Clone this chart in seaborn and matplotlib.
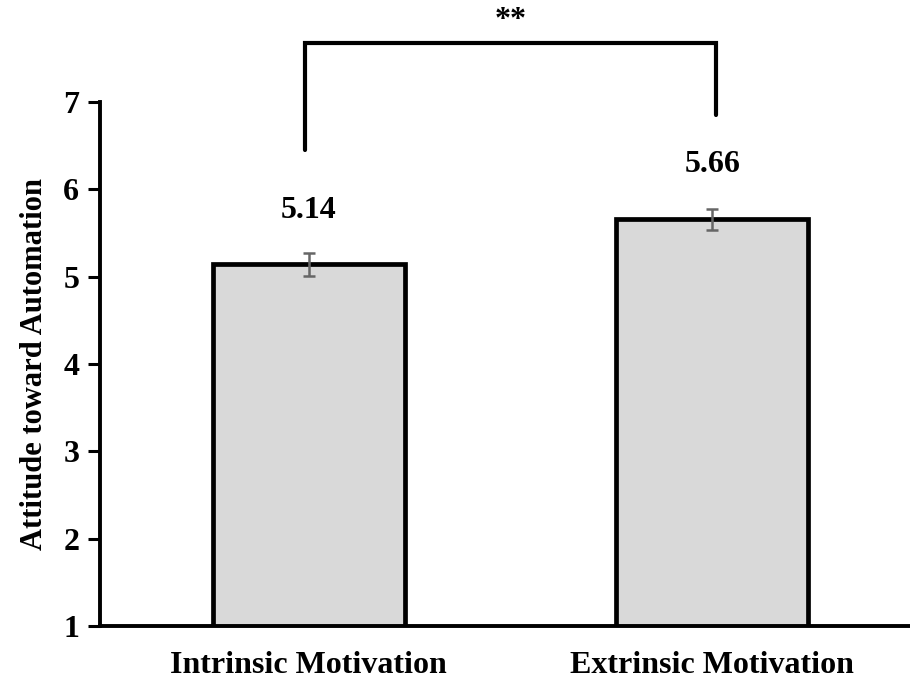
import matplotlib
matplotlib.use("Agg")
import matplotlib.pyplot as plt
import seaborn as sns
import pandas as pd

categories = ["Intrinsic Motivation", "Extrinsic Motivation"]
means = [5.14, 5.66]
errors = [0.13, 0.12]
value_labels = ["5.14", "5.66"]
yticks = [1, 2, 3, 4, 5, 6, 7]
sig_label = "**"

sns.set_theme(style="white")
plt.rcParams["font.family"] = ["Liberation Serif", "DejaVu Serif"]
plt.rcParams["font.weight"] = "bold"
plt.rcParams["text.color"] = "black"
plt.rcParams["axes.labelcolor"] = "black"
plt.rcParams["xtick.color"] = "black"
plt.rcParams["ytick.color"] = "black"

df = pd.DataFrame({"cond": categories, "val": means})

fig = plt.figure(figsize=(9.1, 6.8), dpi=100)
ax = fig.add_axes([0.11, 0.0794, 0.89, 0.7706])

sns.barplot(data=df, x="cond", y="val", order=categories, color="#d9d9d9",
            errorbar=None, width=0.475, edgecolor="black", linewidth=3.4,
            saturation=1, ax=ax)
ax.errorbar(range(len(means)), means, yerr=errors, fmt="none",
            ecolor="#666666", elinewidth=1.8, capsize=4.5, capthick=1.8, zorder=5)

for i, (m, lab) in enumerate(zip(means, value_labels)):
    ax.text(i, m + 0.62, lab, ha="center", va="center", fontsize=23,
            fontweight="bold", color="black")

ax.set_ylim(1, 7)
ax.set_xlim(-0.517, 1.49)
ax.set_yticks(yticks)
ax.set_yticklabels([str(t) for t in yticks], fontsize=23, fontweight="bold")
ax.set_xticklabels(categories, fontsize=23, fontweight="bold")
ax.set_xlabel("")
ax.set_ylabel("Attitude toward Automation", fontsize=22, fontweight="bold",
              labelpad=10)
ax.tick_params(axis="y", direction="out", length=9, width=2.2, left=True, pad=6,
               colors="black")
ax.tick_params(axis="x", length=0, pad=18, colors="black")
for s in ["top", "right"]:
    ax.spines[s].set_visible(False)
for s in ["left", "bottom"]:
    ax.spines[s].set_linewidth(2.8)
    ax.spines[s].set_color("black")

# significance bracket
ax.plot([-0.01, -0.01, 1.01, 1.01], [6.45, 7.68, 7.68, 6.85], color="black",
        lw=3, clip_on=False, solid_joinstyle="miter")
ax.text(0.5, 7.93, sig_label, ha="center", va="center", fontsize=23,
        fontweight="bold", clip_on=False, color="black")

fig.savefig("out.png", dpi=100)
